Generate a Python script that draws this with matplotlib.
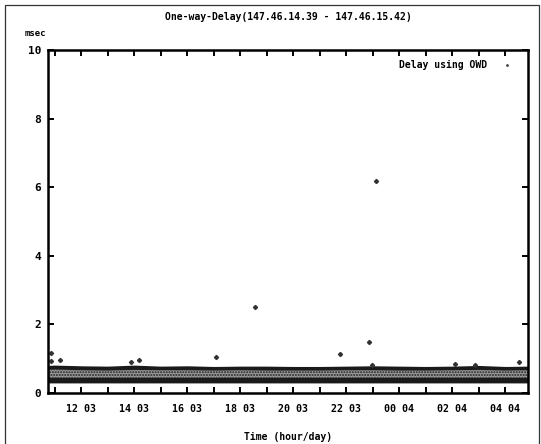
import matplotlib
matplotlib.use("Agg")
import matplotlib.pyplot as plt
from matplotlib.lines import Line2D

# time in hours counted from 00:00 of day 03 (24 = 00:00 of day 04)
band_hours = [10.75, 11, 12, 13, 14, 15, 16, 17, 18, 19, 20, 21, 22, 23, 24, 25, 26, 27, 28, 28.85]
band_low = [0.28, 0.28, 0.28, 0.28, 0.28, 0.28, 0.28, 0.28, 0.28, 0.28,
            0.28, 0.28, 0.28, 0.28, 0.28, 0.28, 0.28, 0.28, 0.28, 0.28]
band_high = [0.79, 0.80, 0.78, 0.77, 0.80, 0.77, 0.78, 0.76, 0.77, 0.77,
             0.76, 0.76, 0.77, 0.78, 0.77, 0.76, 0.77, 0.79, 0.76, 0.77]
core_low = [0.43, 0.43, 0.43, 0.43, 0.43, 0.43, 0.43, 0.43, 0.43, 0.43,
            0.43, 0.43, 0.43, 0.43, 0.43, 0.43, 0.43, 0.43, 0.43, 0.43]
core_high = [0.66, 0.67, 0.65, 0.64, 0.66, 0.65, 0.65, 0.64, 0.65, 0.64,
             0.64, 0.64, 0.65, 0.65, 0.64, 0.64, 0.65, 0.66, 0.64, 0.65]

# isolated samples above the band
spike_hours = [10.85, 10.88, 11.21, 13.89, 14.20, 17.07, 18.55, 21.77, 22.86, 22.97, 23.12, 26.11, 26.84, 28.52]
spike_msec = [0.92, 1.15, 0.94, 0.88, 0.96, 1.05, 2.49, 1.12, 1.48, 0.80, 6.18, 0.84, 0.80, 0.88]

x_start, x_end = 10.75, 28.85
tick_hours = list(range(11, 29))
label_hours = list(range(12, 29, 2))
y_ticks = [0, 2, 4, 6, 8, 10]

FONT = "DejaVu Sans Mono"
plt.rcParams["font.family"] = FONT
plt.rcParams["font.size"] = 7
plt.rcParams["font.weight"] = "bold"


def hour_label(h):
    return f"{h % 24:02d} {3 + h // 24:02d}"


fig = plt.figure(figsize=(5.41, 4.44), dpi=100)
ax = fig.add_axes([48 / 541, 1 - 392.5 / 444, 480 / 541, 342.5 / 444])

ax.fill_between(band_hours, band_low, band_high, color="#1a1a1a", lw=0)
ax.fill_between(band_hours, core_low, core_high, facecolor="#9a9a9a",
                edgecolor="#202020", hatch="......", lw=0)
ax.plot(spike_hours, spike_msec, ls="none", marker="D", ms=2.1,
        color="#333333", mec="#333333")

ax.set_xlim(x_start, x_end)
ax.set_ylim(0, 10)
ax.set_xticks(tick_hours)
ax.set_xticklabels([hour_label(h) if h in label_hours else "" for h in tick_hours])
ax.set_yticks(y_ticks)
ax.tick_params(direction="in", length=4, width=1.4, top=True, right=True,
               pad=8, labelsize=7.2)
ax.tick_params(axis="y", pad=5, labelsize=8)
for sp in ax.spines.values():
    sp.set_linewidth(1.8)

handle = Line2D([], [], ls="none", marker=".", ms=2, color="#444444")
ax.legend([handle], ["Delay using OWD"], loc="upper right", frameon=False,
          markerfirst=False, handlelength=1.0, handletextpad=1.6,
          bbox_to_anchor=(0.985, 0.995), fontsize=7)

fig.text(288 / 541, 1 - 17 / 444, "One-way-Delay(147.46.14.39 - 147.46.15.42)",
         ha="center", va="center", fontsize=7)
fig.text(35 / 541, 1 - 33 / 444, "msec", ha="center", va="center", fontsize=6.5)
fig.text(288 / 541, 1 - 437 / 444, "Time (hour/day)", ha="center", va="center", fontsize=7)

# scanned page frame
frame = plt.Rectangle((5 / 541, -0.01), 534 / 541, 1 - 5 / 444 + 0.01,
                      transform=fig.transFigure, fill=False, lw=0.9, color="#333333")
fig.add_artist(frame)

fig.savefig("out.png", dpi=100)
